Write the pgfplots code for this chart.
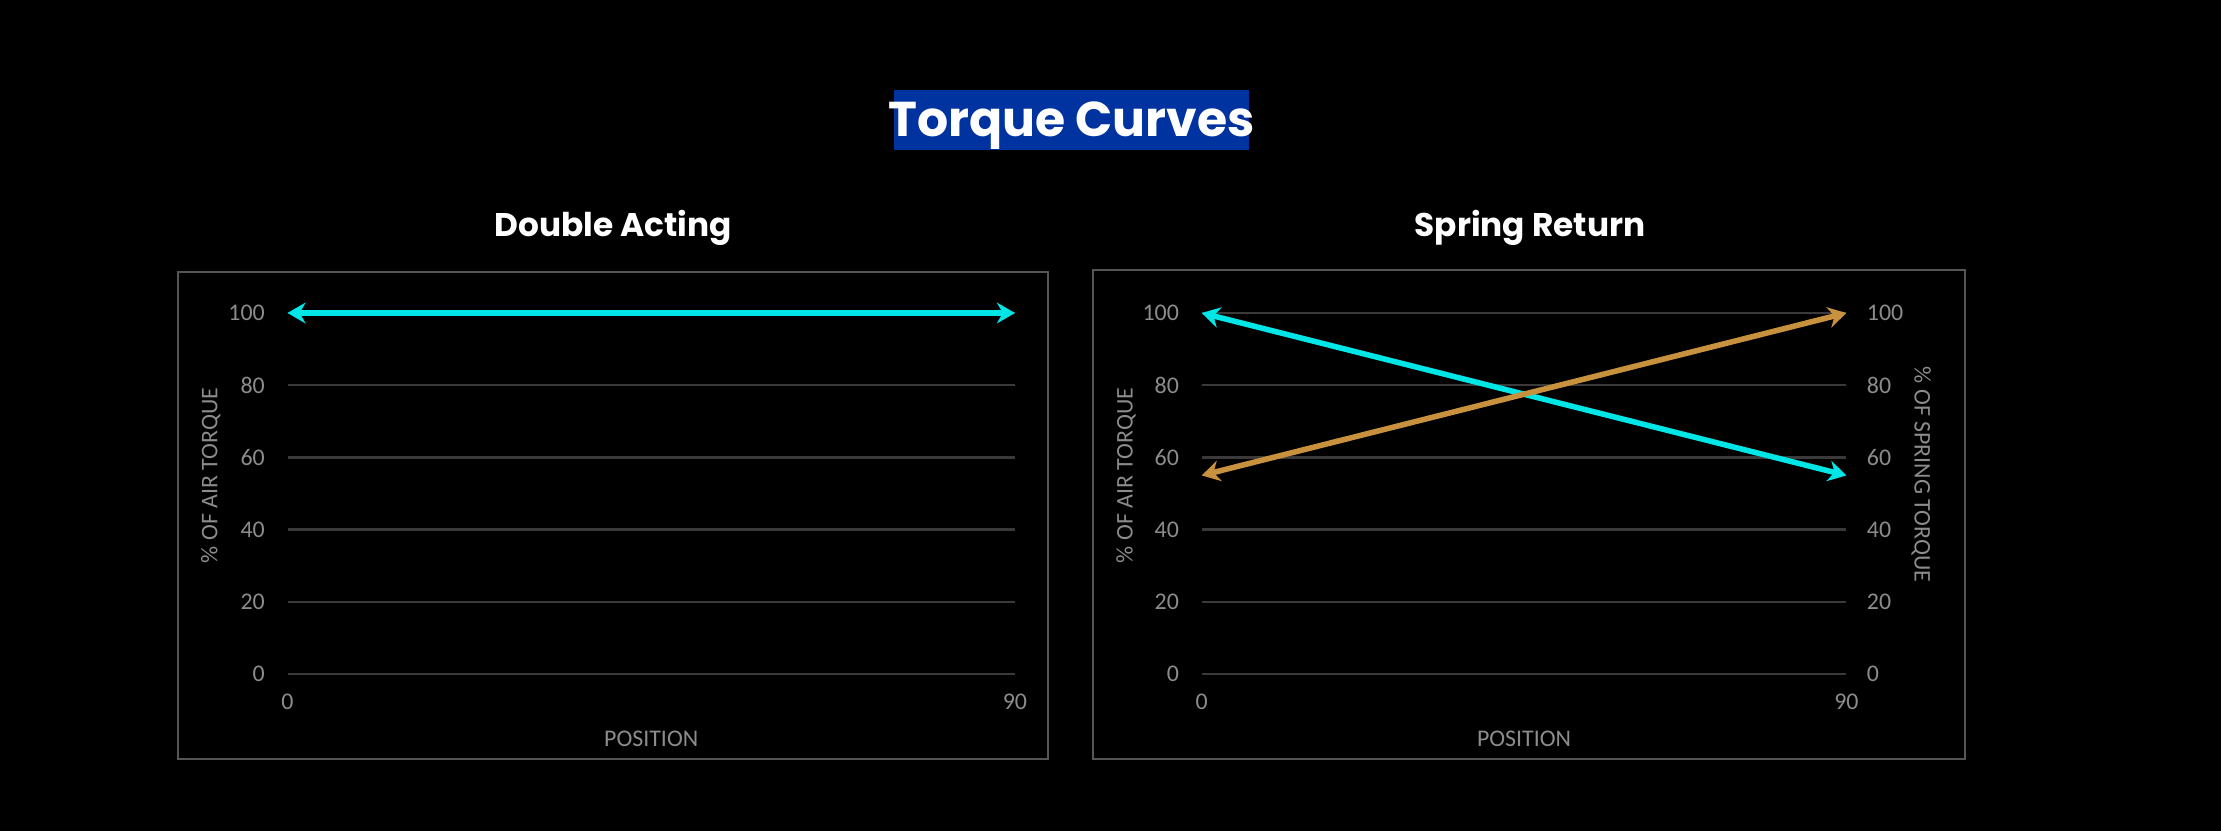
\documentclass[border=0pt]{standalone}
\usepackage{fontspec}
\setmainfont{Carlito}
\newfontfamily\titlefont{Poppins}
\usepackage{pgfplots}
\pgfplotsset{compat=1.18}
\usetikzlibrary{arrows.meta}

\definecolor{titleblue}{RGB}{0,51,160}
\definecolor{aircyan}{RGB}{0,230,230}
\definecolor{springgold}{RGB}{200,145,62}
\definecolor{gridgray}{RGB}{58,58,58}
\definecolor{framegray}{RGB}{85,85,85}
\definecolor{txtgray}{RGB}{140,140,140}

\pgfplotsset{
  torque/.style={
    scale only axis,
    height=129.96pt,
    anchor=south west,
    xmin=0, xmax=90, ymin=0, ymax=100,
    xtick={0,90},
    ytick={0,20,40,60,80,100},
    axis line style={draw=none},
    major tick length=0pt,
    major grid style={gridgray, line width=0.8pt},
    /pgf/number format/assume math mode=true,
    tick label style={font=\fontsize{8.6}{10}\selectfont, text=txtgray},
    xticklabel style={anchor=north, inner sep=0pt, yshift=-7pt},
    clip=false,
  },
  arrowline/.style={line width=2pt, {Stealth[length=6.5pt,width=7.5pt]}-{Stealth[length=6.5pt,width=7.5pt]}},
}

\begin{document}
\begin{tikzpicture}
\fill[black] (0,0) rectangle (799.56pt,299.16pt);
\useasboundingbox (0,0) rectangle (799.56pt,299.16pt);

% title
\fill[titleblue] (321.84pt,245.16pt) rectangle (449.64pt,266.76pt);
\node[anchor=base, inner sep=0pt, text=white, font=\titlefont\bfseries\fontsize{17.6}{20}\selectfont]
  at (385.74pt,249.9pt) {Torque Curves};

% subtitles
\node[anchor=base, inner sep=0pt, text=white, font=\titlefont\bfseries\fontsize{11.8}{14}\selectfont]
  at (220.7pt,214pt) {Double Acting};
\node[anchor=base, inner sep=0pt, text=white, font=\titlefont\bfseries\fontsize{11.8}{14}\selectfont]
  at (550.8pt,214pt) {Spring Return};

% frames
\draw[framegray, line width=0.8pt] (64.08pt,25.92pt) rectangle (377.28pt,201.24pt);
\draw[framegray, line width=0.8pt] (393.48pt,25.92pt) rectangle (707.4pt,201.96pt);

% Double Acting
\begin{axis}[torque,
  width=261.9pt,
  at={(103.5pt,56.52pt)},
  ymajorgrids,
  yticklabel style={anchor=east, inner sep=0pt, xshift=-8pt},
  xlabel={POSITION},
  ylabel={\% OF AIR TORQUE},
  xlabel style={at={(axis description cs:0.5,-0.1793)}, anchor=center, text=txtgray, font=\fontsize{8.6}{10}\selectfont},
  ylabel style={at={(axis description cs:-0.1054,0.55)}, anchor=center, text=txtgray, font=\fontsize{8.6}{10}\selectfont},
]
\addplot[aircyan, arrowline] coordinates {(0,100) (90,100)};
\end{axis}

% Spring Return: air torque (left axis)
\begin{axis}[torque,
  width=232.1pt,
  at={(432.6pt,56.52pt)},
  ymajorgrids,
  yticklabel style={anchor=east, inner sep=0pt, xshift=-8pt},
  xlabel={POSITION},
  ylabel={\% OF AIR TORQUE},
  xlabel style={at={(axis description cs:0.5,-0.1793)}, anchor=center, text=txtgray, font=\fontsize{8.6}{10}\selectfont},
  ylabel style={at={(axis description cs:-0.1174,0.55)}, anchor=center, text=txtgray, font=\fontsize{8.6}{10}\selectfont},
]
\addplot[aircyan, arrowline] coordinates {(0,100) (90,55)};
\end{axis}

% Spring Return: spring torque (right axis)
\begin{axis}[torque,
  width=232.1pt,
  at={(432.6pt,56.52pt)},
  axis y line*=right,
  hide x axis,
  yticklabel style={anchor=west, inner sep=0pt, xshift=7.2pt},
  ylabel={\% OF SPRING TORQUE},
  ylabel style={at={(axis description cs:1.1159,0.552)}, anchor=center, rotate=180, text=txtgray, font=\fontsize{8.6}{10}\selectfont},
]
\addplot[springgold, arrowline] coordinates {(0,55) (90,100)};
\end{axis}
\end{tikzpicture}
\end{document}
